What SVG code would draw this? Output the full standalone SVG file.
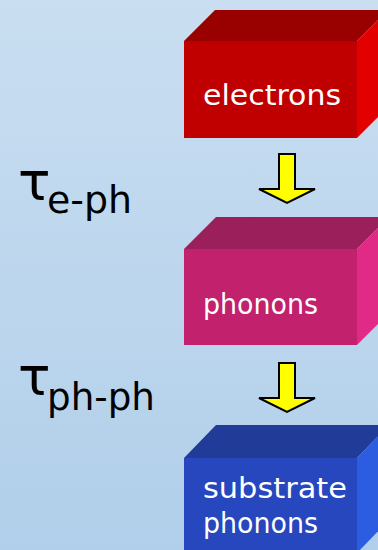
<svg xmlns="http://www.w3.org/2000/svg" width="378" height="550" viewBox="0 0 378 550">
<defs>
<linearGradient id="bg" x1="0" y1="0" x2="0" y2="1">
<stop offset="0" stop-color="#C9DEF1"/>
<stop offset="1" stop-color="#B1CFEA"/>
</linearGradient>
</defs>
<style>
.lbl{font-family:"DejaVu Sans","Open Sans",sans-serif;fill:#FFFFFF;font-size:28px}
.tau{font-family:"DejaVu Sans","Open Sans",sans-serif;fill:#000000}
.arr{fill:#FFFF00;stroke:#000000;stroke-width:2;stroke-linejoin:miter}
</style>
<rect x="0" y="0" width="378" height="550" fill="url(#bg)"/>
<g id="electrons">
<polygon points="184,41 215,10 388,10 357,41" fill="#990000"/>
<polygon points="357,41 388,10 388,107 357,138" fill="#E30000"/>
<rect x="184" y="41" width="173" height="97" fill="#C00000"/>
<text class="lbl" x="203" y="105" textLength="138" lengthAdjust="spacingAndGlyphs">electrons</text>
</g>
<g id="phonons">
<polygon points="184,249 216,217 389,217 357,249" fill="#9B1F5A"/>
<polygon points="357,249 389,217 389,313 357,345" fill="#E02A86"/>
<rect x="184" y="249" width="173" height="96" fill="#C2216E"/>
<text class="lbl" x="203" y="314" textLength="115" lengthAdjust="spacingAndGlyphs">phonons</text>
</g>
<g id="substrate">
<polygon points="184,458 216,425 389,425 357,458" fill="#213C98"/>
<polygon points="357,458 389,425 389,520 357,553" fill="#2C5CE0"/>
<rect x="184" y="458" width="173" height="96" fill="#2747BF"/>
<text class="lbl" x="203" y="498" textLength="144" lengthAdjust="spacingAndGlyphs">substrate</text>
<text class="lbl" x="203" y="533" textLength="115" lengthAdjust="spacingAndGlyphs">phonons</text>
</g>
<g id="connectors">
<polygon class="arr" points="279,154 295,154 295,189 315,189 287,203 259,189 279,189"/>
<polygon class="arr" points="279,363 295,363 295,398 315,398 287,412 259,398 279,398"/>
</g>
<g id="tau-eph">
<text class="tau" x="18" y="200" font-size="54">τ</text>
<text class="tau" x="47" y="213" font-size="37" textLength="85" lengthAdjust="spacingAndGlyphs">e-ph</text>
</g>
<g id="tau-phph">
<text class="tau" x="18" y="395" font-size="54">τ</text>
<text class="tau" x="47" y="410" font-size="37" textLength="108" lengthAdjust="spacingAndGlyphs">ph-ph</text>
</g>
</svg>
